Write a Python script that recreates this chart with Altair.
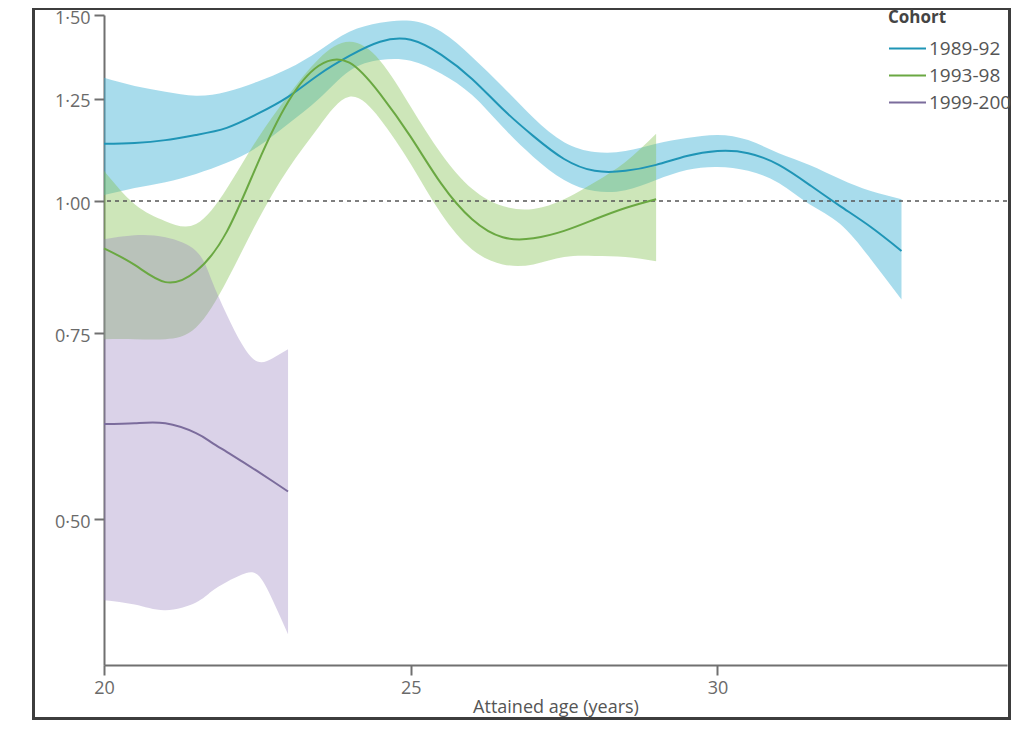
import altair as alt
import pandas as pd

cohorts = ["1989-92", "1993-98", "1999-2004"]

age_a = [20.0, 20.5, 21.0, 21.5, 22.0, 22.5, 23.0, 23.5, 24.0, 24.5, 25.0, 25.5, 26.0, 26.5,
         27.0, 27.5, 28.0, 28.5, 29.0, 29.5, 30.0, 30.5, 31.0, 31.5, 32.0, 32.5, 33.0]
blue_est = [1.133, 1.135, 1.142, 1.155, 1.173, 1.209, 1.255, 1.317, 1.372, 1.415, 1.421, 1.375, 1.305, 1.222,
            1.152, 1.096, 1.068, 1.068, 1.082, 1.103, 1.115, 1.110, 1.082, 1.036, 0.989, 0.945, 0.897]
blue_hi = [1.308, 1.285, 1.269, 1.258, 1.269, 1.297, 1.334, 1.387, 1.446, 1.475, 1.481, 1.446, 1.369, 1.283,
           1.199, 1.137, 1.113, 1.115, 1.133, 1.147, 1.155, 1.142, 1.110, 1.082, 1.049, 1.022, 1.004]
blue_lo = [1.013, 1.029, 1.042, 1.061, 1.087, 1.125, 1.183, 1.249, 1.328, 1.360, 1.358, 1.320, 1.260, 1.175,
           1.101, 1.047, 1.022, 1.024, 1.047, 1.070, 1.077, 1.068, 1.040, 0.993, 0.951, 0.881, 0.807]

age_b = [20.0, 20.5, 21.0, 21.5, 22.0, 22.5, 23.0, 23.5, 24.0, 24.5, 25.0, 25.5, 26.0, 26.5,
         27.0, 27.5, 28.0, 28.5, 29.0]
green_est = [0.902, 0.870, 0.838, 0.858, 0.935, 1.084, 1.241, 1.343, 1.352, 1.263, 1.150, 1.038, 0.961, 0.924,
             0.922, 0.937, 0.961, 0.985, 1.004]
green_hi = [1.068, 0.993, 0.957, 0.951, 1.027, 1.145, 1.258, 1.363, 1.415, 1.358, 1.228, 1.108, 1.027, 0.989,
            0.983, 1.004, 1.042, 1.089, 1.158]
green_lo = [0.740, 0.740, 0.740, 0.759, 0.840, 0.957, 1.072, 1.175, 1.255, 1.196, 1.084, 0.972, 0.900, 0.871,
            0.871, 0.885, 0.887, 0.885, 0.877]

age_c = [20.0, 20.5, 21.0, 21.5, 21.75, 22.0, 22.25, 22.5, 22.75, 23.0]
purple_est = [0.615, 0.616, 0.616, 0.603, 0.591, 0.579, 0.567, 0.555, 0.543, 0.531]
purple_hi = [0.920, 0.928, 0.924, 0.897, 0.843, 0.781, 0.732, 0.705, 0.710, 0.724]
purple_lo = [0.419, 0.415, 0.410, 0.417, 0.427, 0.436, 0.443, 0.443, 0.419, 0.389]

x_ticks = [20, 25, 30, 35]
y_ticks = [0.5, 0.75, 1.0, 1.25, 1.5]

band_colors = ["#3eb1d5", "#82c050", "#957ebd"]
band_opacity = [0.45, 0.4, 0.35]
line_colors = ["#1f95b6", "#6aa842", "#7b6c9c"]

series = [
    (cohorts[0], age_a, blue_est, blue_lo, blue_hi),
    (cohorts[1], age_b, green_est, green_lo, green_hi),
    (cohorts[2], age_c, purple_est, purple_lo, purple_hi),
]
tables = [pd.DataFrame({"age": a, "est": e, "lo": l, "hi": h, "Cohort": n}) for n, a, e, l, h in series]
df = pd.concat(tables, ignore_index=True)

FONT = "Open Sans"

xscale = alt.Scale(domain=[20, 34.72], nice=False, zero=False)
yscale = alt.Scale(type="log", domain=[0.3638, 1.5], nice=False)

x_enc = alt.X(
    "age:Q",
    scale=xscale,
    axis=alt.Axis(
        values=x_ticks, grid=False, labelFlush=False,
        domainColor="#707070", domainWidth=2, tickColor="#707070", tickWidth=2, tickSize=10,
        labelPadding=4, labelFontSize=18, labelColor="#6a6a6a", labelFont=FONT,
        title="Attained age (years)", titleFontSize=18, titleFontWeight="normal",
        titleColor="#555555", titleFont=FONT, titleY=47, titleBaseline="alphabetic",
    ),
)

y_axis = alt.Axis(
    values=y_ticks, grid=False,
    labelExpr="replace(format(datum.value, '.2f'), '.', '·')",
    domainColor="#707070", domainWidth=2, tickColor="#707070", tickWidth=2, tickSize=10,
    labelPadding=4, labelOffset=3, labelFontSize=18, labelColor="#6a6a6a", labelFont=FONT, title=None,
)

band_layers = []
for i, t in enumerate(tables):
    band_layers.append(
        alt.Chart(t).mark_area(
            interpolate="natural", color=band_colors[i], opacity=band_opacity[i]
        ).encode(
            x=x_enc,
            y=alt.Y("lo:Q", scale=yscale, axis=y_axis),
            y2="hi:Q",
        )
    )

ref = alt.Chart(pd.DataFrame({"ref": [1.0]})).mark_rule(
    strokeDash=[4, 4], color="#555555", strokeWidth=1.6
).encode(y=alt.Y("ref:Q", scale=yscale))

lines = alt.Chart(df).mark_line(interpolate="natural", strokeWidth=2).encode(
    x=x_enc,
    y=alt.Y("est:Q", scale=yscale),
    stroke=alt.Stroke(
        "Cohort:N",
        scale=alt.Scale(domain=cohorts, range=line_colors),
        legend=alt.Legend(
            title="Cohort", orient="none", legendX=784, legendY=-5,
            symbolType="M-1,0H1.96", symbolSize=625, symbolStrokeWidth=2,
            labelFontSize=19, labelFont=FONT, labelColor="#555555", labelOffset=14, labelLimit=300,
            titleFontSize=17, titleFont=FONT, titleFontWeight="bold", titleColor="#444444",
            titlePadding=8, rowPadding=3, padding=0,
        ),
    ),
)

frame = alt.Chart(pd.DataFrame({"f": [0]})).mark_rect(
    fillOpacity=0, stroke="#3d3d3d", strokeWidth=3
).encode(
    x=alt.value(-70.5), x2=alt.value(905.5), y=alt.value(-6.5), y2=alt.value(703.5)
)

chart = alt.layer(*band_layers, ref, lines, frame).properties(
    width=903,
    height=650,
    padding={"left": 96, "top": 7, "right": 4, "bottom": 55},
    autosize=alt.AutoSizeParams(type="none"),
).configure_view(strokeWidth=0)

chart.save("out.html", embed_options={"renderer": "svg", "actions": False})
